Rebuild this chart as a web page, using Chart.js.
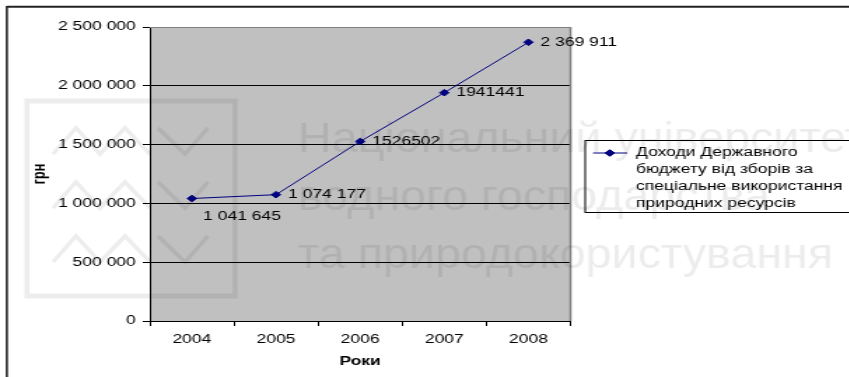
<!DOCTYPE html>
<html>
<head>
<meta charset="utf-8">
<script src="https://cdn.jsdelivr.net/npm/chart.js@4/dist/chart.umd.min.js"></script>
<style>
  html, body { margin: 0; padding: 0; background: #fff; overflow: hidden; width: 849px; height: 377px; }
  /* the drawing is laid out narrow and widened horizontally */
  #wrap { position: absolute; left: 0; top: 0; width: 607px; height: 377px; transform: scaleX(1.4); transform-origin: 0 0; }
</style>
</head>
<body>
<div id="wrap"><canvas id="c"></canvas></div>
<script>
const S = 1.4; // horizontal widening applied to the canvas

const years = ['2004', '2005', '2006', '2007', '2008'];
const revenue = [1041645, 1074177, 1526502, 1941441, 2369911];
const yMin = 0;
const yMax = 2500000;
const yStep = 500000;
// which point labels use digit grouping, and which sit below the point
const labelGrouped = [true, true, false, false, true];
const labelBelow = [true, false, false, false, false];
const legendLines = ['Доходи Державного', 'бюджету від зборів за', 'спеціальне використання', 'природних ресурсів'];
const yTitle = 'грн';
const xTitle = 'Роки';
const watermarkLines = ['Національний університет', 'водного господарства', 'та природокористування'];

const FONT = "'Liberation Sans', Arial, sans-serif";
const LINE_COLOR = '#000080';

function groupThousands(v) {
  return String(v).replace(/\B(?=(\d{3})+(?!\d))/g, ' ');
}

const backgroundPlugin = {
  id: 'plotBackground',
  beforeDraw(chart) {
    const { ctx, chartArea: a } = chart;
    ctx.save();
    ctx.fillStyle = '#fff';
    ctx.fillRect(0, 0, chart.width, chart.height);
    ctx.fillStyle = '#C0C0C0';
    ctx.fillRect(a.left, a.top, a.right - a.left, a.bottom - a.top);
    ctx.restore();
  },
  beforeDatasetsDraw(chart) {
    const { ctx, chartArea: a } = chart;
    ctx.save();
    ctx.strokeStyle = '#808080';
    ctx.lineWidth = 1;
    ctx.beginPath();
    ctx.moveTo(a.left, a.top + 0.5);
    ctx.lineTo(a.right, a.top + 0.5);
    ctx.stroke();
    ctx.lineWidth = 1.5;
    ctx.beginPath();
    ctx.moveTo(a.right, a.top);
    ctx.lineTo(a.right, a.bottom);
    ctx.stroke();
    ctx.restore();
  }
};

const pointLabelPlugin = {
  id: 'pointLabels',
  afterDatasetsDraw(chart) {
    const { ctx } = chart;
    const meta = chart.getDatasetMeta(0);
    const values = chart.data.datasets[0].data;
    ctx.save();
    ctx.font = '12.5px ' + FONT;
    ctx.fillStyle = '#000';
    ctx.textAlign = 'left';
    ctx.textBaseline = 'middle';
    meta.data.forEach((pt, i) => {
      const v = values[i];
      const text = labelGrouped[i] ? groupThousands(v) : String(v);
      if (labelBelow[i]) {
        ctx.fillText(text, pt.x + 8, pt.y + 18.5);
      } else {
        ctx.fillText(text, pt.x + 8.6, pt.y);
      }
    });
    ctx.restore();
  }
};

const frameLegendPlugin = {
  id: 'frameLegend',
  afterDraw(chart) {
    const { ctx } = chart;
    const ds = chart.data.datasets[0];
    ctx.save();
    // outer chart frame
    ctx.strokeStyle = '#222';
    ctx.lineWidth = 2;
    ctx.beginPath();
    ctx.moveTo(chart.width + 10, 6.8);
    ctx.lineTo(4.9, 6.8);
    ctx.stroke();
    ctx.lineWidth = 1.6;
    ctx.beginPath();
    ctx.moveTo(4.9, 6);
    ctx.lineTo(4.9, chart.height + 10);
    ctx.stroke();

    // legend box
    ctx.strokeStyle = '#000';
    ctx.lineWidth = 1;
    ctx.strokeRect(418, 140.5, chart.width + 20 - 418, 72);
    // legend marker
    ctx.strokeStyle = ds.borderColor;
    ctx.beginPath();
    ctx.moveTo(423.6, 153);
    ctx.lineTo(448, 153);
    ctx.stroke();
    Chart.helpers.drawPoint(ctx, { pointStyle: ds.pointStyle, radius: ds.pointRadius, borderWidth: 1 }, 435.6, 153);
    ctx.fillStyle = ds.pointBackgroundColor;
    ctx.fill();
    // legend text
    ctx.fillStyle = '#000';
    ctx.font = '12.5px ' + FONT;
    ctx.textAlign = 'left';
    ctx.textBaseline = 'middle';
    legendLines.forEach((t, i) => ctx.fillText(t, 454.3, 153 + i * 16.8));
    ctx.restore();

    // watermark, drawn without the horizontal widening
    ctx.save();
    ctx.scale(1 / S, 1);
    ctx.strokeStyle = 'rgba(0,0,0,0.07)';
    ctx.lineWidth = 5;
    ctx.strokeRect(27, 101, 208, 195);
    ctx.lineWidth = 4;
    [128, 182, 236].forEach(yt => {
      const yb = yt + 26;
      ctx.beginPath();
      ctx.moveTo(53, yb); ctx.lineTo(76, yt); ctx.lineTo(100, yb); ctx.lineTo(125, yt); ctx.lineTo(150, yb);
      ctx.moveTo(158, yt); ctx.lineTo(185, yb); ctx.lineTo(208, yt);
      ctx.stroke();
    });
    ctx.fillStyle = 'rgba(0,0,0,0.075)';
    ctx.font = '42px ' + FONT;
    ctx.textAlign = 'left';
    ctx.textBaseline = 'alphabetic';
    const w3 = ctx.measureText(watermarkLines[2]).width;
    const k = 535 / w3;
    ctx.translate(298, 0);
    ctx.scale(k, 1);
    watermarkLines.forEach((t, i) => ctx.fillText(t, 0, 152 + i * 58));
    ctx.restore();
  }
};

new Chart(document.getElementById('c'), {
  type: 'line',
  data: {
    labels: years,
    datasets: [{
      label: legendLines.join(' '),
      data: revenue,
      borderColor: LINE_COLOR,
      backgroundColor: LINE_COLOR,
      borderWidth: 1,
      pointStyle: 'rectRot',
      pointRadius: 3.3,
      pointBorderWidth: 1,
      pointBackgroundColor: LINE_COLOR,
      pointBorderColor: LINE_COLOR,
      tension: 0,
      clip: false
    }]
  },
  options: {
    responsive: true,
    maintainAspectRatio: false,
    animation: false,
    devicePixelRatio: 1,
    layout: { padding: { left: 0, top: 27, right: 199.5, bottom: 0 } },
    plugins: { legend: { display: false }, tooltip: { enabled: false } },
    scales: {
      x: {
        type: 'category',
        offset: true,
        grid: { offset: true, drawOnChartArea: false, drawTicks: true, tickLength: 5, color: '#000', lineWidth: 1 },
        border: { display: true, color: '#000', width: 1 },
        ticks: { color: '#000', font: { family: FONT, size: 12.5 }, padding: 6, maxRotation: 0, autoSkip: false },
        title: { display: true, text: xTitle, color: '#000', font: { family: FONT, size: 12.5, weight: 'bold' }, padding: { top: 0, bottom: 7.5 } },
        afterFit(s) { s.height = 56; }
      },
      y: {
        min: yMin,
        max: yMax,
        ticks: { stepSize: yStep, color: '#000', font: { family: FONT, size: 12.5 }, padding: 5, callback: v => groupThousands(v) },
        grid: {
          color: c => (c.tick && c.tick.value === yMax ? '#808080' : '#000'),
          tickColor: '#000',
          lineWidth: 1,
          tickLength: 5,
          drawTicks: true
        },
        border: { display: true, color: '#000', width: 1 },
        title: { display: true, text: yTitle, color: '#000', font: { family: FONT, size: 12.5, weight: 'bold' }, padding: { top: 21.5, bottom: 0 } },
        afterFit(s) { s.width = 107; }
      }
    }
  },
  plugins: [backgroundPlugin, pointLabelPlugin, frameLegendPlugin]
});
</script>
</body>
</html>
